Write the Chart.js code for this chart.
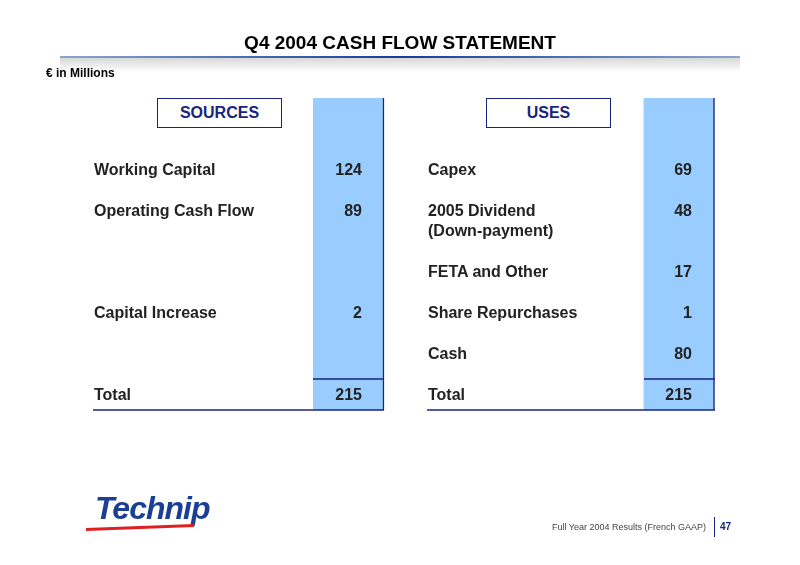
<!DOCTYPE html>
<html><head><meta charset="utf-8">
<script src="https://cdn.jsdelivr.net/npm/chart.js@4"></script>
<style>
body{margin:0;width:800px;height:565px;background:#fff;font-family:Arial,"Liberation Sans",sans-serif;position:relative;overflow:hidden}
.a{position:absolute;white-space:nowrap}
.lbl{font-size:16px;font-weight:bold;color:#222}
.num{font-size:16px;font-weight:bold;color:#222;text-align:right;width:60px}
#grid{position:absolute;left:0;top:0;width:800px;height:565px}
</style></head><body>
<canvas id="grid" width="800" height="565"></canvas>
<div class="a" style="left:0;width:800px;top:32px;text-align:center;font-size:19px;font-weight:bold;color:#000">Q4 2004 CASH FLOW STATEMENT</div>
<div class="a" style="left:60px;top:56px;width:680px;height:2px;background:linear-gradient(to right,#8ea4d0,#1a3a9a 50%,#8ea4d0)"></div>
<div class="a" style="left:60px;top:58px;width:680px;height:14px;background:linear-gradient(#d8d8d8,#fff)"></div>
<div class="a" style="left:46px;top:66px;font-size:12px;font-weight:bold">€ in Millions</div>
<div class="a" style="left:157px;top:98px;width:123px;height:28px;border:1px solid #1a237e;font-size:16px;font-weight:bold;color:#1a237e;text-align:center;line-height:28px;background:#fff">SOURCES</div>
<div class="a" style="left:486px;top:98px;width:123px;height:28px;border:1px solid #1a237e;font-size:16px;font-weight:bold;color:#1a237e;text-align:center;line-height:28px;background:#fff">USES</div>
<div id="rows"></div>
<div class="a" style="left:95px;top:490px;font-size:32px;font-weight:bold;font-style:italic;color:#1b3f94;letter-spacing:-1px">Technip</div>
<div class="a" style="left:86px;top:526px;width:108px;height:3px;background:#e02020;transform:skewY(-2deg)"></div>
<div class="a" style="left:552px;top:522px;font-size:9px;color:#444">Full Year 2004 Results (French GAAP)</div>
<div class="a" style="left:714px;top:517px;width:1px;height:20px;background:#1a237e"></div>
<div class="a" style="left:720px;top:521px;font-size:10px;font-weight:bold;color:#1a237e">47</div>
<script>
const sourceLabels = ['Working Capital', 'Operating Cash Flow', 'Capital Increase', 'Total'];
const sourceValues = [124, 89, 2, 215];
const sourceRows = [0, 1, 3, 5];
const useLabels = ['Capex', '2005 Dividend\n(Down-payment)', 'FETA and Other', 'Share Repurchases', 'Cash', 'Total'];
const useValues = [69, 48, 17, 1, 80, 215];
const useRows = [0, 1, 2, 3, 4, 5];
const rowTops = [161, 202, 263, 304, 345, 386];

const rows = document.getElementById('rows');
function addCol(labels, values, idx, lx, nx) {
  labels.forEach((l, i) => {
    const top = rowTops[idx[i]];
    l.split('\n').forEach((p, j) => {
      const d = document.createElement('div');
      d.className = 'a lbl'; d.style.left = lx + 'px'; d.style.top = (top + j * 20) + 'px';
      d.textContent = p; rows.appendChild(d);
    });
    const n = document.createElement('div');
    n.className = 'a num'; n.style.left = nx + 'px'; n.style.top = top + 'px';
    n.textContent = values[i]; rows.appendChild(n);
  });
}
addCol(sourceLabels, sourceValues, sourceRows, 94, 302);
addCol(useLabels, useValues, useRows, 428, 632);

// blue value columns drawn as floating bars on a page-sized pixel scale
new Chart(document.getElementById('grid'), {
  type: 'bar',
  data: {
    datasets: [{
      data: [{ x: 348.5, y: [98, 410] }, { x: 679, y: [98, 410] }],
      backgroundColor: '#99ccff',
      borderColor: '#1a237e',
      borderWidth: { right: 1.5, left: 0, top: 0, bottom: 0 },
      borderSkipped: false,
      barThickness: 71
    }]
  },
  options: {
    responsive: false, animation: false,
    layout: { padding: 0 },
    plugins: { legend: { display: false }, tooltip: { enabled: false } },
    scales: {
      x: { type: 'linear', display: false, min: 0, max: 800, offset: false },
      y: { display: false, min: 0, max: 565, reverse: true }
    }
  },
  plugins: [{
    id: 'lines',
    afterDatasetsDraw(c) {
      const ctx = c.ctx; ctx.save(); ctx.strokeStyle = '#1a237e'; ctx.lineWidth = 1.5;
      [[93, 384], [427, 715]].forEach(([a, b]) => {
        ctx.beginPath(); ctx.moveTo(a, 410); ctx.lineTo(b, 410); ctx.stroke();
        ctx.beginPath(); ctx.moveTo(b - 71, 379); ctx.lineTo(b, 379); ctx.stroke();
      });
      ctx.restore();
    }
  }]
});
</script>
</body></html>
